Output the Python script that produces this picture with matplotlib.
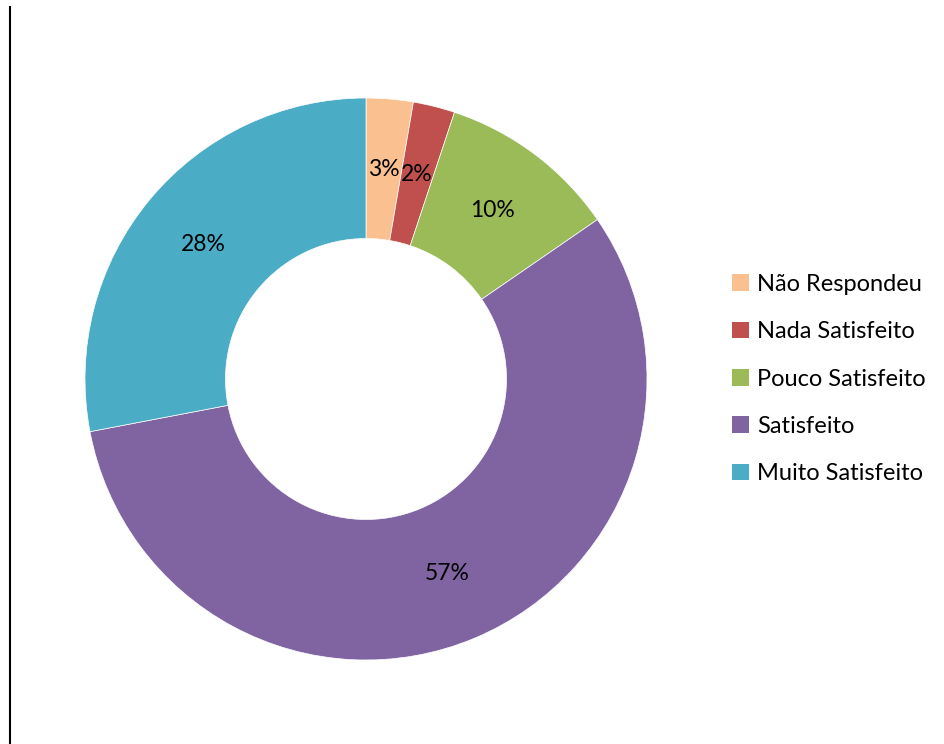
import matplotlib
matplotlib.use("Agg")
import matplotlib.pyplot as plt
from matplotlib.patches import Patch
from matplotlib.lines import Line2D

categories = ["Não Respondeu", "Nada Satisfeito", "Pouco Satisfeito", "Satisfeito", "Muito Satisfeito"]
values = [2.7, 2.4, 10.3, 56.6, 28.0]
colors = ["#FAC090", "#C0504D", "#9BBB59", "#8064A2", "#4BACC6"]

plt.rcParams['font.family'] = ['Lato', 'DejaVu Sans']

W, H = 945, 744
fig = plt.figure(figsize=(W / 100, H / 100), dpi=100)
fig.patch.set_facecolor("white")

cx, cy, R = 366, 379, 281
ax = fig.add_axes([(cx - R) / W, (H - cy - R) / H, 2 * R / W, 2 * R / H])

wedges, texts, autotexts = ax.pie(
    values, colors=colors, startangle=90, counterclock=False, radius=1.0,
    autopct=lambda p: f"{p:.0f}%", pctdistance=0.75,
    wedgeprops=dict(width=0.5, edgecolor="white", linewidth=0.5),
    textprops=dict(fontsize=16.5, color="black"),
)
ax.set_xlim(-1, 1)
ax.set_ylim(-1, 1)
ax.set_aspect("equal")
ax.axis("off")

handles = [Patch(facecolor=c, edgecolor="none") for c in colors]
leg = fig.legend(handles, categories, loc="center left",
                 bbox_to_anchor=(732 / W, 1 - 379 / H), frameon=False,
                 fontsize=17, handlelength=0.7, handleheight=0.7,
                 handletextpad=0.35, labelspacing=1.12, borderpad=0, borderaxespad=0)

fig.add_artist(Line2D([10 / W, 10 / W], [0, 1 - 7 / H], color="black", linewidth=1.5,
                      transform=fig.transFigure))

fig.savefig("out.png", dpi=100, facecolor="white")
